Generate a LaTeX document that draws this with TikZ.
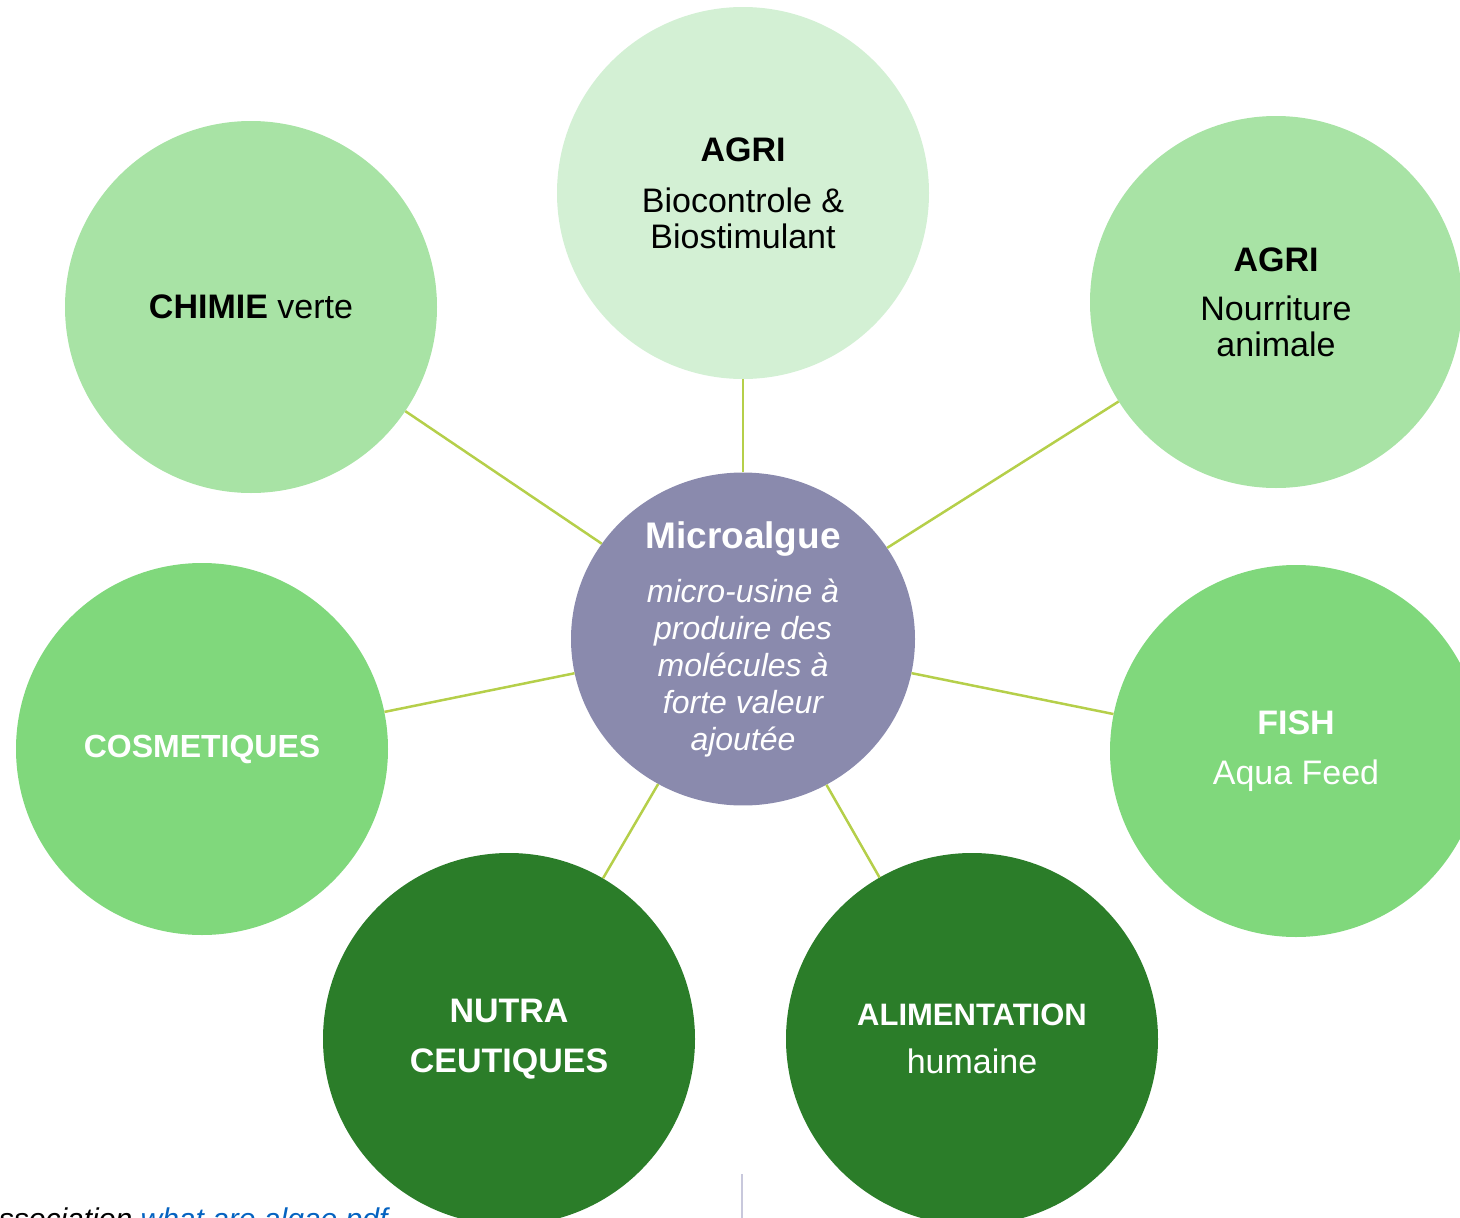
\documentclass[tikz,border=0pt]{standalone}
\usepackage{fontspec}
\setmainfont{Liberation Sans}
\usepackage{tikz}
\usetikzlibrary{shapes.geometric,positioning}
\definecolor{mgpale}{HTML}{D3F0D4}
\definecolor{mglight}{HTML}{A8E3A5}
\definecolor{mgmid}{HTML}{80D87C}
\definecolor{mgdark}{HTML}{2B7D29}
\definecolor{mgcore}{HTML}{8A8AAD}
\definecolor{mglink}{HTML}{B5CF4A}
\definecolor{mgurl}{HTML}{0563C1}
\definecolor{mgrule}{HTML}{C8C8DC}
\tikzstyle{usebox} = [circle, minimum size=372pt, inner sep=0pt, align=center, font=\fontsize{34}{36}\selectfont]
\tikzstyle{link} = [line width=2.5pt, color=mglink]

\begin{document}
\begin{tikzpicture}[x=1pt,y=-1pt]
\useasboundingbox (0,0) rectangle (1460,1218);
\clip (0,0) rectangle (1460,1218);
\node[ellipse, minimum width=344pt, minimum height=326pt, inner sep=0pt, fill=mgcore, text=white, align=center, font=\fontsize{32}{37}\selectfont\itshape] (mic) at (743,639) {{\fontsize{37}{37}\selectfont\bfseries\upshape Microalgue}\\[17pt]micro-usine à\\produire des\\molécules à\\forte valeur\\ajoutée};

\node[usebox, fill=mgpale] (agb) at (743,193) {\textbf{AGRI}\\[15pt]Biocontrole \&\\Biostimulant};
\node[usebox, fill=mglight] (chv) at (251,307) {\textbf{CHIMIE} verte};
\node[usebox, fill=mglight] (agn) at (1276,302) {\textbf{AGRI}\\[13pt]Nourriture\\animale};
\node[usebox, fill=mgmid, text=white, font=\fontsize{32}{36}\selectfont] (cos) at (202,749) {\textbf{COSMETIQUES}};
\node[usebox, fill=mgmid, text=white] (fsh) at (1296,751) {\textbf{FISH}\\[14pt]Aqua Feed};
\node[usebox, fill=mgdark, text=white] (nut) at (509,1039) {\textbf{NUTRA}\\[14pt]\textbf{CEUTIQUES}};
\node[usebox, fill=mgdark, text=white] (ali) at (972,1039) {{\fontsize{31}{36}\selectfont\textbf{ALIMENTATION}}\\[12pt]humaine};

\foreach \s in {agb,chv,agn,cos,fsh,nut,ali}
  \draw[link] (mic) -- (\s);

\coordinate (rt) at (742,1174);
\coordinate (rb) at (742,1218);
\draw[mgrule, line width=2pt] (rt) -- (rb);

\node[anchor=base west, inner sep=0pt, font=\fontsize{30}{34}\selectfont\itshape] (src) at (-18,1229) {association \textcolor{mgurl}{what are algae pdf}};
\end{tikzpicture}
\end{document}
